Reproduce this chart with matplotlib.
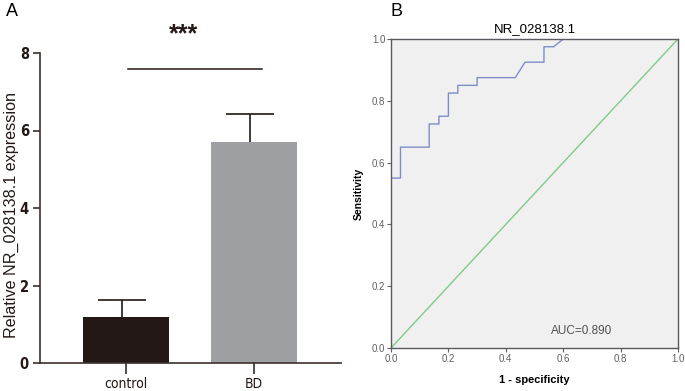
import numpy as np
import matplotlib.pyplot as plt

# panel A data
groups = ["control", "BD"]
means = [1.2, 5.7]
errs = [0.43, 0.73]
sig_height = 7.6
sig_text = "***"

# panel B data (ROC curve)
fpr = [0, 0, 0.033, 0.033, 0.133, 0.133, 0.167, 0.167, 0.2, 0.2, 0.233, 0.233,
       0.3, 0.3, 0.433, 0.467, 0.533, 0.533, 0.567, 0.6, 1.0]
tpr = [0, 0.55, 0.55, 0.65, 0.65, 0.725, 0.725, 0.75, 0.75, 0.825, 0.825, 0.85,
       0.85, 0.875, 0.875, 0.925, 0.925, 0.975, 0.975, 1.0, 1.0]
auc = 0.890
roc_title = "NR_028138.1"

arial = ['Liberation Sans', 'DejaVu Sans']
axcol = '#3b302c'
dark = '#231815'

fig = plt.figure(figsize=(6.85, 3.91), dpi=100)

# ---- panel A: bar chart
ax1 = fig.add_axes([40/685, 1-363/391, 301/685, 310/391])
x = np.arange(len(groups))
tops = np.array(means) + np.array(errs)
ax1.bar(x, means, width=0.67, color=[dark, '#9d9fa2'], zorder=2)
# upper error bars only
ax1.vlines(x - 0.03, means, tops, color=dark, lw=1.2, zorder=1)
ax1.hlines(tops, x - 0.22, x + 0.16, color=dark, lw=1.2, zorder=1)
ax1.plot([0.02, 1.06], [sig_height, sig_height], color=dark, lw=1.1)
ax1.text(0.45, 8.48, sig_text, ha='center', va='center', fontsize=18,
         fontweight='bold', family=arial, color=dark)
ax1.set_xlim(-0.67, 1.68)
ax1.set_ylim(0, 8)
ax1.set_yticks([0, 2, 4, 6, 8])
ax1.set_xticks(x)
ax1.set_xticklabels(groups, family='DejaVu Sans', stretch='condensed', fontsize=10)
for t in ax1.get_yticklabels():
    t.set_family('DejaVu Sans')
    t.set_stretch('condensed')
    t.set_fontweight('bold')
    t.set_fontsize(10.5)
ax1.spines['top'].set_visible(False)
ax1.spines['right'].set_visible(False)
for s in ['left', 'bottom']:
    ax1.spines[s].set_color(axcol)
    ax1.spines[s].set_linewidth(1.2)
ax1.tick_params(axis='y', colors=axcol, length=5, width=1.2, labelcolor=dark, pad=3)
ax1.tick_params(axis='x', colors=axcol, length=8, width=1.2, labelcolor=dark, pad=2)
ax1.set_ylabel("Relative NR_028138.1 expression", family=arial, fontsize=11.6,
               color=dark)
ax1.yaxis.set_label_coords(-21/301, 0.477)
fig.text(12/685, 1-12/391, "A", family=arial, fontsize=13, va='center', ha='center')

# ---- panel B: ROC curve
ax2 = fig.add_axes([391/685, 1-348/391, 287/685, 309/391])
ax2.set_facecolor('#f0f0f0')
ax2.plot([0, 1], [0, 1], color='#7fcb8a', lw=1.0)
ax2.plot(fpr, tpr, color='#7f8cc8', lw=1.0)
ax2.set_xlim(0, 1)
ax2.set_ylim(0, 1)
ticks = [0.0, 0.2, 0.4, 0.6, 0.8, 1.0]
ax2.set_xticks(ticks)
ax2.set_yticks(ticks)
ax2.set_xticklabels(["%.1f" % t for t in ticks], family=arial, fontsize=7, color='#505050')
ax2.set_yticklabels(["%.1f" % t for t in ticks], family=arial, fontsize=7, color='#505050')
ax2.tick_params(colors='#606060', length=3, width=0.8, pad=1)
for s in ax2.spines.values():
    s.set_color('#5a5a60')
    s.set_linewidth(1.0)
ax2.set_title(roc_title, family=arial, fontsize=9.5, pad=5)
ax2.set_xlabel("1 - specificity", family=arial, fontsize=8, fontweight='bold', labelpad=8)
ax2.set_ylabel("Sensitivity", family=arial, fontsize=7.5, fontweight='bold', labelpad=6)
ax2.text(0.665, 0.035, "AUC=%.3f" % auc, family=arial, fontsize=8.5, color='#505050',
         ha='center', va='bottom')
fig.text(396/685, 1-12/391, "B", family=arial, fontsize=13, va='center', ha='center')

fig.savefig("out.png", dpi=100)
